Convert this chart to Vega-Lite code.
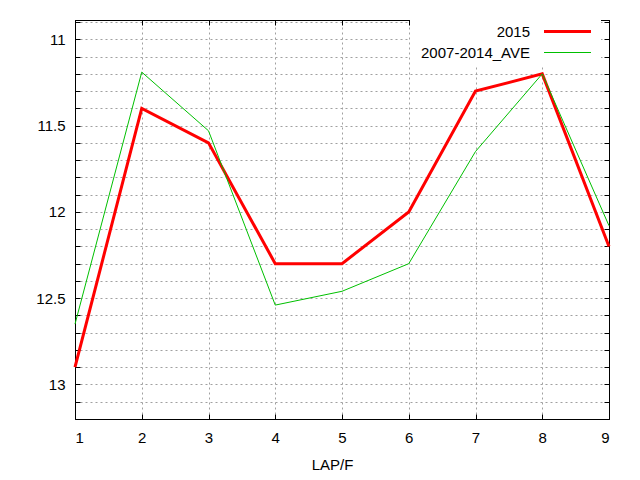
{
  "$schema": "https://vega.github.io/schema/vega-lite/v6.json",
  "width": 534,
  "height": 399,
  "autosize": {"type": "none"},
  "padding": {"left": 75, "top": 20, "right": 31, "bottom": 61},
  "background": "white",
  "config": {
    "view": {"stroke": "black", "strokeWidth": 1},
    "font": "Liberation Sans",
    "axis": {
      "domainColor": "black",
      "domainWidth": 1,
      "tickColor": "black",
      "tickWidth": 1,
      "labelColor": "black",
      "labelFont": "Liberation Sans",
      "labelFontSize": 15,
      "titleFont": "Liberation Sans",
      "titleFontSize": 15,
      "titleFontWeight": "normal",
      "titleColor": "black",
      "gridColor": "#a0a0a0",
      "gridDash": [2, 3],
      "gridWidth": 1,
      "gridOpacity": 1
    }
  },
  "datasets": {
    "laps": [
      {"lap": 1, "time": 12.9, "series": "2015"},
      {"lap": 2, "time": 11.4, "series": "2015"},
      {"lap": 3, "time": 11.6, "series": "2015"},
      {"lap": 4, "time": 12.3, "series": "2015"},
      {"lap": 5, "time": 12.3, "series": "2015"},
      {"lap": 6, "time": 12.0, "series": "2015"},
      {"lap": 7, "time": 11.3, "series": "2015"},
      {"lap": 8, "time": 11.2, "series": "2015"},
      {"lap": 9, "time": 12.2, "series": "2015"},
      {"lap": 1, "time": 12.65, "series": "2007-2014_AVE"},
      {"lap": 2, "time": 11.19, "series": "2007-2014_AVE"},
      {"lap": 3, "time": 11.53, "series": "2007-2014_AVE"},
      {"lap": 4, "time": 12.54, "series": "2007-2014_AVE"},
      {"lap": 5, "time": 12.46, "series": "2007-2014_AVE"},
      {"lap": 6, "time": 12.3, "series": "2007-2014_AVE"},
      {"lap": 7, "time": 11.65, "series": "2007-2014_AVE"},
      {"lap": 8, "time": 11.2, "series": "2007-2014_AVE"},
      {"lap": 9, "time": 12.08, "series": "2007-2014_AVE"}
    ]
  },
  "layer": [
    {
      "data": {"name": "laps"},
      "transform": [{"filter": "datum.series === '2015'"}],
      "mark": {"type": "line", "clip": false},
      "encoding": {
        "x": {
          "field": "lap",
          "type": "quantitative",
          "scale": {"domain": [1, 9], "nice": false, "zero": false},
          "axis": {
            "orient": "bottom",
            "title": "LAP/F",
            "values": [1, 2, 3, 4, 5, 6, 7, 8, 9],
            "format": "d",
            "grid": true,
            "tickSize": -5,
            "labelPadding": 16,
            "titleX": 257,
            "titlePadding": 12
          }
        },
        "y": {
          "field": "time",
          "type": "quantitative",
          "scale": {"domain": [10.888, 13.2], "reverse": true, "nice": false, "zero": false},
          "axis": {
            "orient": "left",
            "title": null,
            "values": [10.9, 11, 11.1, 11.2, 11.3, 11.4, 11.5, 11.6, 11.7, 11.8, 11.9, 12, 12.1, 12.2, 12.3, 12.4, 12.5, 12.6, 12.7, 12.8, 12.9, 13, 13.1],
            "labelExpr": "abs(datum.value * 2 - round(datum.value * 2)) < 0.01 ? format(datum.value, '~g') : ''",
            "grid": true,
            "tickSize": -5,
            "labelPadding": 15
          }
        },
        "color": {
          "field": "series",
          "type": "nominal",
          "scale": {"domain": ["2015", "2007-2014_AVE"], "range": ["#ff0000", "#00c000"]},
          "legend": {
            "title": null,
            "orient": "none",
            "legendX": 335,
            "legendY": 0,
            "fillColor": "white",
            "padding": 4,
            "symbolType": "M-4,0H4",
            "symbolSize": 138,
            "labelAlign": "right",
            "labelOffset": -45,
            "symbolOffset": 146,
            "rowPadding": 5,
            "labelFont": "Liberation Sans",
            "labelFontSize": 15,
            "labelColor": "black"
          }
        },
        "strokeWidth": {
          "field": "series",
          "type": "nominal",
          "scale": {"domain": ["2015", "2007-2014_AVE"], "range": [3, 1]},
          "legend": {
            "title": null,
            "orient": "none",
            "legendX": 335,
            "legendY": 0,
            "fillColor": "white",
            "padding": 4,
            "symbolType": "M-4,0H4",
            "symbolSize": 138,
            "labelAlign": "right",
            "labelOffset": -45,
            "symbolOffset": 146,
            "rowPadding": 5,
            "labelFont": "Liberation Sans",
            "labelFontSize": 15,
            "labelColor": "black"
          }
        }
      }
    },
    {
      "data": {"name": "laps"},
      "transform": [{"filter": "datum.series === '2007-2014_AVE'"}],
      "mark": {"type": "line", "clip": false},
      "encoding": {
        "x": {"field": "lap", "type": "quantitative", "axis": null},
        "y": {"field": "time", "type": "quantitative", "axis": null},
        "color": {"field": "series", "type": "nominal"},
        "strokeWidth": {"field": "series", "type": "nominal"}
      }
    },
    {
      "data": {"name": "laps"},
      "mark": {"type": "line", "opacity": 0},
      "encoding": {
        "x": {
          "field": "lap",
          "type": "quantitative",
          "axis": {
            "orient": "top",
            "title": null,
            "values": [1, 2, 3, 4, 5, 6, 7, 8, 9],
            "labels": false,
            "grid": false,
            "tickSize": -5
          }
        },
        "y": {
          "field": "time",
          "type": "quantitative",
          "axis": {
            "orient": "right",
            "title": null,
            "values": [10.9, 11, 11.1, 11.2, 11.3, 11.4, 11.5, 11.6, 11.7, 11.8, 11.9, 12, 12.1, 12.2, 12.3, 12.4, 12.5, 12.6, 12.7, 12.8, 12.9, 13, 13.1],
            "labels": false,
            "grid": false,
            "tickSize": -5
          }
        }
      }
    }
  ],
  "resolve": {"axis": {"x": "independent", "y": "independent"}}
}
